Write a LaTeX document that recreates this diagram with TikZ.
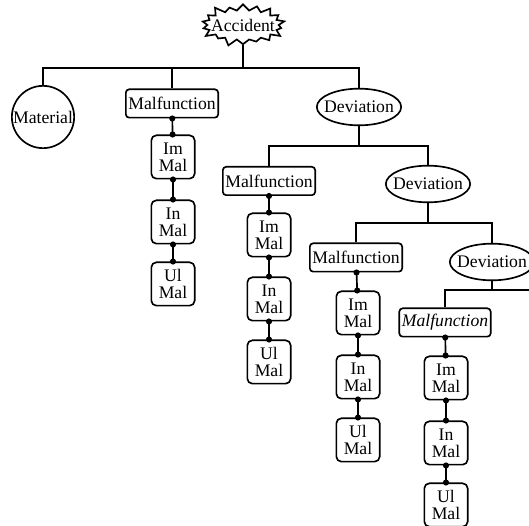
\documentclass[tikz,border=0pt]{standalone}
\usepackage{fontspec}
\setmainfont{Liberation Serif}
\usetikzlibrary{shapes.geometric,shapes.symbols,arrows.meta}

\begin{document}
\begin{tikzpicture}[x=0.6pt, y=-0.6pt, line width=1pt,
  every node/.style={font=\fontsize{10.6}{10}\selectfont},
  malbox/.style={draw, rounded corners=2pt, inner xsep=1.5pt, inner ysep=0pt, minimum height=17pt},
  stagebox/.style={draw, rounded corners=3pt, align=center, inner sep=0pt, minimum width=26pt, minimum height=26pt},
  devnode/.style={draw, ellipse, inner xsep=-3pt, inner ysep=0pt, minimum height=22pt},
  link/.style={{Circle[length=3.6pt]}-{Circle[length=3.6pt]}, shorten <=-1.8pt, shorten >=-1.8pt}]
\useasboundingbox (0,0) rectangle (529,526);
\node[draw, starburst, starburst points=18, starburst point height=5pt, inner xsep=-4pt, inner ysep=2.5pt] (acc) at (243,25) {Accident};
\node[draw, circle, inner sep=0.3pt] (mat) at (43,117) {Material};
\node[malbox] (mal1) at (172,103.5) {Malfunction};
\node[devnode] (dev1) at (359,107) {Deviation};
\node[malbox] (mal2) at (269,181) {Malfunction};
\node[devnode] (dev2) at (428,184) {Deviation};
\node[malbox] (mal3) at (356,257.5) {Malfunction};
\node[devnode] (dev3) at (492,262) {Deviation};
\node[malbox] (mal4) at (445,322.5) {\itshape Malfunction};
% chains
\node[stagebox] (im1) at (173,157) {Im\\Mal};
\node[stagebox] (in1) at (173,222) {In\\Mal};
\node[stagebox] (ul1) at (173,284) {Ul\\Mal};
\node[stagebox] (im2) at (269,235) {Im\\Mal};
\node[stagebox] (in2) at (269,299) {In\\Mal};
\node[stagebox] (ul2) at (269,362) {Ul\\Mal};
\node[stagebox] (im3) at (358,313) {Im\\Mal};
\node[stagebox] (in3) at (358,377) {In\\Mal};
\node[stagebox] (ul3) at (358,440) {Ul\\Mal};
\node[stagebox] (im4) at (446,378) {Im\\Mal};
\node[stagebox] (in4) at (446,443) {In\\Mal};
\node[stagebox] (ul4) at (446,505) {Ul\\Mal};
% tree
\coordinate (b1) at (243,68);
\coordinate (b2) at (359,146);
\coordinate (b3) at (428,223);
\coordinate (b4) at (492,290);
\coordinate (b4e) at (529,290);
\draw (acc) -- (b1);
\draw (mat) |- (b1) -| (dev1);
\draw (b1) -| (mal1);
\draw (dev1) -- (b2);
\draw (mal2) |- (b2) -| (dev2);
\draw (dev2) -- (b3);
\draw (mal3) |- (b3) -| (dev3);
\draw (dev3) -- (b4);
\draw (mal4) |- (b4e);
\draw[link] (mal1) -- (im1);
\draw[link] (im1) -- (in1);
\draw[link] (in1) -- (ul1);
\draw[link] (mal2) -- (im2);
\draw[link] (im2) -- (in2);
\draw[link] (in2) -- (ul2);
\draw[link] (mal3) -- (im3);
\draw[link] (im3) -- (in3);
\draw[link] (in3) -- (ul3);
\draw[link] (mal4) -- (im4);
\draw[link] (im4) -- (in4);
\draw[link] (in4) -- (ul4);
\end{tikzpicture}
\end{document}
